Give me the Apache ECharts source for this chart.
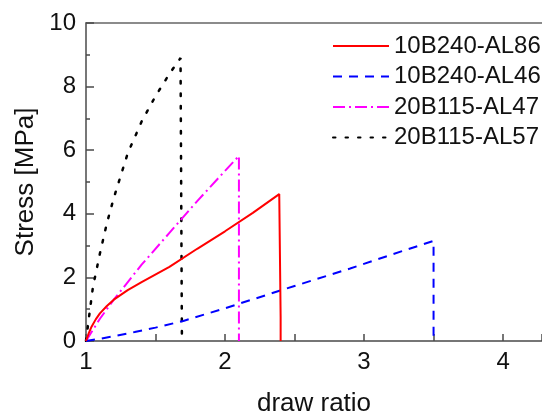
<!DOCTYPE html>
<html><head><meta charset="utf-8">
<script src="https://cdn.jsdelivr.net/npm/echarts@6/dist/echarts.min.js"></script>
<style>html,body{margin:0;padding:0;background:#fff}#c{width:542px;height:413px}</style>
</head><body><div id="c"></div>
<script>
// Series names
var seriesNames = ["10B240-AL86", "10B240-AL46", "20B115-AL47", "20B115-AL57"];
// 10B240-AL86 (red, solid)
var redX = [1, 1.02, 1.04, 1.07, 1.1, 1.15, 1.2, 1.3, 1.4, 1.6, 1.8, 2.0, 2.2, 2.39, 2.39, 2.40, 2.40];
var redY = [0, 0.25, 0.45, 0.68, 0.87, 1.1, 1.3, 1.6, 1.85, 2.33, 2.9, 3.45, 4.03, 4.62, 4.62, 0.75, 0];
// 10B240-AL46 (blue, dashed)
var blueX = [1, 1.1, 1.2, 1.35, 1.5, 1.7, 2.0, 2.2, 2.5, 2.9, 3.2, 3.5, 3.5];
var blueY = [0, 0.07, 0.15, 0.28, 0.42, 0.63, 1.03, 1.31, 1.73, 2.28, 2.72, 3.15, 0];
// 20B115-AL47 (magenta, dash-dot)
var magX = [1, 1.05, 1.1, 1.2, 1.4, 1.6, 1.8, 2.0, 2.1, 2.1];
var magY = [0, 0.35, 0.7, 1.3, 2.4, 3.4, 4.4, 5.35, 5.82, 0];
// 20B115-AL57 (black, dotted)
var blkX = [1, 1.02, 1.05, 1.1, 1.15, 1.2, 1.25, 1.3, 1.4, 1.5, 1.6, 1.68, 1.69];
var blkY = [0, 0.7, 1.7, 2.75, 3.7, 4.5, 5.2, 5.9, 6.9, 7.7, 8.4, 8.9, 0];
// Axis ticks
var xTicks = [1, 2, 3, 4];
var yTicks = [0, 2, 4, 6, 8, 10];

function pairs(xs, ys) { return xs.map(function (x, i) { return [x, ys[i]]; }); }

var font = "'Liberation Sans', Arial, sans-serif";
var axisCol = '#4a4a4a';
var chart = echarts.init(document.getElementById('c'), null, {renderer: 'canvas'});
var styles = [
  {color: '#ff0000', type: 'solid', width: 2},
  {color: '#0000ff', type: [9, 7], width: 2},
  {color: '#ff00ff', type: [12, 4, 2, 4], width: 2},
  {color: '#000000', type: [2.5, 10], width: 2.5}
];
var datas = [pairs(redX, redY), pairs(blueX, blueY), pairs(magX, magY), pairs(blkX, blkY)];

chart.setOption({
  animation: false,
  backgroundColor: '#fff',
  textStyle: {fontFamily: font},
  grid: {left: 86, right: 0, top: 23, bottom: 72, containLabel: false, outerBoundsMode: 'none'},
  legend: {
    orient: 'vertical', left: 327, top: 29,
    itemWidth: 56, itemHeight: 14, itemGap: 6.5,
    data: seriesNames,
    itemStyle: {opacity: 0},
    textStyle: {fontSize: 24, color: '#111', fontFamily: font}
  },
  xAxis: [{
    type: 'value', min: 1, max: 4.28, interval: 1,
    position: 'bottom',
    name: 'draw ratio', nameLocation: 'middle', nameGap: 50,
    nameTextStyle: {fontSize: 26, color: '#111', fontFamily: font},
    axisLine: {show: true, onZero: false, lineStyle: {color: axisCol, width: 1.5}},
    axisTick: {show: true, inside: true, length: 7, lineStyle: {color: axisCol, width: 1.5}},
    minorTick: {show: true, splitNumber: 2, length: 7, lineStyle: {color: axisCol, width: 1.5}},
    splitLine: {show: false},
    axisLabel: {fontSize: 24, color: '#111', margin: 9, showMaxLabel: false,
      formatter: function (v) { return xTicks.indexOf(v) >= 0 ? String(v) : ''; }}
  }, {
    type: 'value', min: 1, max: 4.28, position: 'top',
    axisLine: {show: true, onZero: false, lineStyle: {color: '#666', width: 1.5}},
    axisTick: {show: false}, axisLabel: {show: false}, splitLine: {show: false}
  }],
  yAxis: {
    type: 'value', min: 0, max: 10, interval: 2,
    name: 'Stress [MPa]', nameLocation: 'middle', nameGap: 46,
    nameTextStyle: {fontSize: 26, color: '#111', fontFamily: font},
    axisLine: {show: true, lineStyle: {color: axisCol, width: 1.5}},
    axisTick: {show: true, inside: true, length: 8, lineStyle: {color: axisCol, width: 1.5}},
    minorTick: {show: true, splitNumber: 2, length: 4, lineStyle: {color: axisCol, width: 1.5}},
    splitLine: {show: false},
    axisLabel: {fontSize: 24, color: '#111', margin: 10,
      formatter: function (v) { return yTicks.indexOf(v) >= 0 ? String(v) : ''; }}
  },
  series: seriesNames.map(function (n, i) {
    return {
      name: n, type: 'line', data: datas[i], symbol: 'none', showSymbol: false,
      lineStyle: {color: styles[i].color, type: styles[i].type, width: styles[i].width, cap: i === 3 ? 'round' : 'butt'},
      itemStyle: {color: styles[i].color},
      z: 10 - i
    };
  })
});
</script></body></html>
